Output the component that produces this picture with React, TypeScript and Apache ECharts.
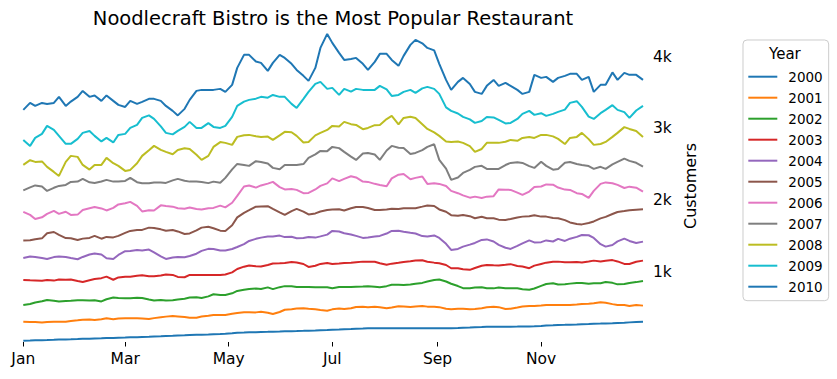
import React, { useEffect, useRef } from "react";
import * as echarts from "echarts";

const FONT = "DejaVu Sans";

const years = ["2000", "2001", "2002", "2003", "2004", "2005", "2006", "2007", "2008", "2009", "2010"];
const colors = ["#1f77b4", "#ff7f0e", "#2ca02c", "#d62728", "#9467bd", "#8c564b", "#e377c2", "#7f7f7f", "#bcbd22", "#17becf", "#1f77b4"];

// day of year (0 = Jan 1) of each sample
const days = [0, 4, 7, 11, 14, 18, 21, 25, 28, 32, 35, 39, 42, 46, 49, 53, 56, 60, 63, 67, 70, 74, 77, 81, 84, 88, 91, 95, 98, 102, 105, 109, 112, 116, 119, 123, 126, 130, 133, 137, 140, 144, 147, 151, 154, 158, 161, 165, 168, 172, 175, 179, 182, 186, 189, 193, 196, 200, 203, 207, 210, 214, 217, 221, 224, 228, 231, 235, 238, 242, 245, 249, 252, 256, 259, 263, 266, 270, 273, 277, 280, 284, 287, 291, 294, 298, 301, 305, 308, 312, 315, 319, 322, 326, 329, 333, 336, 340, 343, 347, 350, 354, 357, 361, 365];

const monthTicks = [0, 60, 121, 182, 244, 305];
const monthLabels = ["Jan", "Mar", "May", "Jul", "Sep", "Nov"];
const yTicks = [1000, 2000, 3000, 4000];
const yTickLabels = ["1k", "2k", "3k", "4k"];

const y2000 = [49, 51, 54, 56, 58, 61, 64, 66, 68, 71, 74, 76, 79, 82, 85, 87, 90, 92, 95, 97, 100, 103, 106, 109, 113, 116, 120, 123, 127, 130, 132, 135, 139, 142, 145, 152, 159, 161, 164, 167, 170, 172, 174, 176, 178, 180, 182, 185, 188, 190, 193, 196, 200, 204, 209, 212, 216, 218, 221, 222, 223, 223, 223, 222, 221, 221, 221, 222, 223, 223, 223, 222, 221, 224, 228, 231, 235, 238, 242, 242, 243, 243, 243, 244, 245, 247, 249, 254, 260, 263, 267, 269, 271, 274, 277, 280, 284, 286, 289, 292, 296, 299, 303, 308, 313];
const y2001 = [312, 309, 309, 301, 309, 313, 313, 313, 323, 333, 341, 344, 337, 348, 360, 348, 358, 360, 360, 360, 358, 349, 362, 374, 383, 390, 385, 378, 367, 367, 385, 394, 406, 406, 406, 423, 434, 445, 445, 442, 451, 438, 420, 447, 479, 486, 495, 500, 493, 484, 476, 466, 484, 495, 490, 500, 518, 519, 515, 520, 513, 501, 511, 526, 523, 518, 525, 530, 522, 522, 515, 493, 486, 493, 493, 486, 490, 501, 513, 522, 515, 490, 494, 511, 525, 532, 532, 538, 545, 545, 545, 545, 545, 551, 559, 561, 569, 583, 576, 557, 545, 545, 532, 545, 536];
const y2002 = [545, 559, 580, 596, 615, 605, 594, 601, 605, 611, 611, 608, 612, 594, 625, 648, 643, 639, 639, 644, 643, 621, 607, 615, 607, 612, 622, 632, 650, 653, 643, 665, 694, 685, 685, 707, 740, 758, 768, 774, 768, 790, 765, 793, 807, 804, 796, 794, 796, 792, 792, 792, 779, 794, 796, 796, 800, 803, 807, 799, 792, 807, 826, 826, 824, 829, 840, 852, 872, 893, 900, 872, 840, 808, 779, 778, 789, 792, 778, 776, 788, 778, 778, 778, 765, 757, 775, 810, 836, 846, 831, 832, 842, 852, 852, 839, 847, 847, 865, 853, 832, 836, 852, 863, 879];
const y2003 = [893, 888, 886, 882, 893, 884, 900, 896, 900, 878, 865, 889, 907, 918, 939, 896, 928, 939, 939, 952, 960, 946, 945, 956, 970, 963, 935, 931, 963, 963, 963, 963, 963, 963, 970, 999, 1046, 1078, 1095, 1085, 1081, 1102, 1123, 1126, 1130, 1142, 1137, 1115, 1074, 1091, 1116, 1130, 1116, 1123, 1130, 1134, 1140, 1148, 1148, 1147, 1126, 1105, 1120, 1131, 1144, 1153, 1165, 1166, 1147, 1134, 1126, 1101, 1056, 1055, 1042, 1034, 1060, 1091, 1102, 1096, 1095, 1105, 1113, 1088, 1081, 1057, 1092, 1116, 1134, 1145, 1148, 1138, 1141, 1142, 1137, 1151, 1162, 1149, 1160, 1169, 1151, 1116, 1116, 1147, 1162];
const y2004 = [1199, 1220, 1213, 1197, 1185, 1211, 1220, 1213, 1199, 1181, 1213, 1247, 1262, 1247, 1195, 1185, 1241, 1294, 1297, 1309, 1304, 1316, 1276, 1220, 1185, 1204, 1213, 1209, 1227, 1258, 1297, 1326, 1325, 1304, 1304, 1323, 1352, 1391, 1436, 1465, 1482, 1496, 1499, 1510, 1489, 1493, 1474, 1478, 1492, 1482, 1499, 1524, 1575, 1567, 1543, 1526, 1506, 1478, 1485, 1497, 1506, 1539, 1575, 1578, 1565, 1550, 1540, 1503, 1496, 1512, 1478, 1396, 1311, 1325, 1357, 1384, 1408, 1450, 1457, 1428, 1380, 1341, 1325, 1366, 1401, 1443, 1415, 1419, 1443, 1428, 1464, 1436, 1467, 1492, 1519, 1515, 1478, 1391, 1357, 1379, 1429, 1467, 1436, 1407, 1426];
const y2005 = [1443, 1446, 1460, 1472, 1543, 1560, 1519, 1476, 1474, 1450, 1468, 1478, 1506, 1467, 1492, 1485, 1506, 1547, 1575, 1588, 1589, 1621, 1617, 1597, 1578, 1589, 1568, 1533, 1540, 1582, 1621, 1632, 1613, 1579, 1575, 1653, 1763, 1827, 1863, 1913, 1916, 1919, 1881, 1833, 1798, 1851, 1881, 1844, 1805, 1819, 1846, 1867, 1874, 1876, 1860, 1891, 1909, 1909, 1895, 1867, 1867, 1874, 1884, 1881, 1891, 1891, 1891, 1913, 1930, 1922, 1874, 1842, 1794, 1785, 1798, 1780, 1752, 1771, 1752, 1752, 1732, 1728, 1742, 1763, 1774, 1780, 1794, 1774, 1774, 1755, 1752, 1725, 1693, 1672, 1666, 1685, 1707, 1750, 1770, 1810, 1839, 1851, 1863, 1870, 1877];
const y2006 = [1839, 1798, 1742, 1764, 1812, 1853, 1812, 1842, 1798, 1802, 1867, 1891, 1909, 1888, 1860, 1895, 1944, 1960, 1979, 1924, 1846, 1862, 1860, 1931, 1923, 1913, 1891, 1883, 1902, 1881, 1874, 1891, 1895, 1927, 1902, 1967, 2062, 2193, 2208, 2178, 2208, 2233, 2257, 2184, 2152, 2157, 2146, 2100, 2104, 2152, 2201, 2236, 2306, 2267, 2299, 2336, 2319, 2261, 2257, 2230, 2215, 2197, 2306, 2357, 2368, 2294, 2313, 2333, 2229, 2239, 2229, 2200, 2132, 2100, 2069, 2038, 2052, 2034, 2052, 2059, 2152, 2147, 2146, 2108, 2076, 2123, 2187, 2193, 2222, 2218, 2178, 2150, 2146, 2100, 2090, 2034, 2132, 2230, 2250, 2239, 2215, 2172, 2191, 2176, 2122];
const y2007 = [2139, 2180, 2208, 2194, 2132, 2175, 2201, 2215, 2257, 2262, 2299, 2251, 2243, 2262, 2285, 2261, 2261, 2271, 2313, 2253, 2239, 2239, 2250, 2250, 2243, 2278, 2299, 2272, 2261, 2261, 2257, 2240, 2261, 2244, 2313, 2431, 2507, 2492, 2480, 2545, 2535, 2512, 2452, 2434, 2493, 2493, 2493, 2505, 2591, 2640, 2688, 2685, 2744, 2727, 2674, 2608, 2563, 2651, 2660, 2638, 2563, 2694, 2758, 2733, 2730, 2644, 2660, 2699, 2744, 2781, 2563, 2441, 2285, 2318, 2382, 2424, 2466, 2481, 2438, 2435, 2438, 2492, 2521, 2531, 2521, 2477, 2452, 2537, 2480, 2427, 2438, 2523, 2535, 2507, 2493, 2477, 2438, 2467, 2438, 2500, 2535, 2580, 2549, 2523, 2470];
const y2008 = [2493, 2559, 2535, 2542, 2466, 2396, 2340, 2535, 2619, 2605, 2493, 2428, 2493, 2493, 2591, 2517, 2480, 2410, 2424, 2517, 2619, 2698, 2758, 2702, 2674, 2641, 2702, 2726, 2716, 2635, 2563, 2619, 2744, 2811, 2800, 2772, 2883, 2907, 2911, 2893, 2883, 2887, 2841, 2904, 2953, 2948, 2897, 2806, 2813, 2904, 2939, 2980, 3036, 3029, 3092, 3060, 3050, 2990, 3008, 3046, 3050, 3131, 3175, 3058, 3147, 3164, 3147, 3060, 2994, 2946, 2897, 2820, 2813, 2818, 2800, 2754, 2674, 2715, 2800, 2802, 2800, 2816, 2841, 2829, 2869, 2883, 2869, 2911, 2911, 2890, 2855, 2784, 2869, 2883, 2939, 2852, 2772, 2784, 2813, 2883, 2939, 3019, 2994, 2965, 2883];
const y2009 = [2841, 2758, 2869, 2925, 3036, 2980, 2897, 2786, 2786, 2855, 2939, 2966, 2897, 2820, 2869, 2806, 2911, 2925, 3008, 3050, 3147, 3182, 3133, 3029, 2939, 2918, 2966, 3022, 3092, 3008, 3008, 3074, 3022, 3008, 3036, 3161, 3314, 3374, 3398, 3415, 3440, 3428, 3467, 3440, 3440, 3342, 3286, 3412, 3509, 3620, 3648, 3551, 3565, 3467, 3551, 3513, 3551, 3537, 3537, 3537, 3593, 3544, 3453, 3467, 3509, 3537, 3495, 3558, 3579, 3551, 3481, 3293, 3245, 3209, 3161, 3126, 3078, 3103, 3161, 3154, 3120, 3071, 3078, 3133, 3203, 3245, 3189, 3213, 3175, 3203, 3231, 3263, 3356, 3380, 3300, 3165, 3133, 3213, 3259, 3324, 3259, 3227, 3147, 3250, 3314];
const y2010 = [3259, 3356, 3314, 3356, 3342, 3356, 3440, 3314, 3374, 3440, 3523, 3440, 3460, 3384, 3460, 3384, 3328, 3300, 3384, 3342, 3370, 3412, 3412, 3384, 3314, 3245, 3182, 3273, 3398, 3523, 3537, 3537, 3537, 3551, 3509, 3607, 3843, 4024, 4024, 3931, 3913, 3801, 3913, 4024, 3982, 3899, 3815, 3732, 3662, 3843, 4121, 4316, 4191, 4052, 3954, 3968, 3982, 3899, 3815, 3927, 4038, 4038, 3954, 3871, 4010, 4163, 4233, 4184, 4121, 4087, 3899, 3676, 3537, 3648, 3704, 3620, 3509, 3481, 3593, 3676, 3593, 3634, 3593, 3537, 3481, 3509, 3746, 3704, 3718, 3648, 3704, 3732, 3760, 3760, 3676, 3718, 3509, 3607, 3607, 3780, 3676, 3773, 3746, 3746, 3676];

const seriesValues = [y2000, y2001, y2002, y2003, y2004, y2005, y2006, y2007, y2008, y2009, y2010];

export default function App() {
  const ref = useRef<HTMLDivElement>(null);
  useEffect(() => {
    if (!ref.current) return;
    const chart = echarts.init(ref.current, null, { renderer: "svg" });
    chart.setOption({
      animation: false,
      backgroundColor: "#ffffff",
      textStyle: { fontFamily: FONT },
      title: {
        text: "Noodlecraft Bistro is the Most Popular Restaurant",
        left: 333,
        top: 8,
        padding: 0,
        textAlign: "center",
        textStyle: { fontFamily: FONT, fontSize: 19.5, fontWeight: "normal", color: "#000" },
      },
      grid: { left: 23.3, right: 194, top: 30, bottom: 37, containLabel: false },
      xAxis: {
        type: "value",
        min: 0,
        max: 365,
        axisLine: { show: false },
        splitLine: { show: false },
        axisTick: { show: true, customValues: monthTicks, length: 4.5, lineStyle: { color: "#000", width: 1 } },
        axisLabel: {
          customValues: monthTicks,
          formatter: (v: number) => monthLabels[monthTicks.indexOf(v)] ?? "",
          fontFamily: FONT,
          fontSize: 15.5,
          color: "#000",
          margin: 9,
        },
      },
      yAxis: {
        type: "value",
        position: "right",
        min: 30,
        max: 4370,
        axisLine: { show: false },
        axisTick: { show: false },
        splitLine: { show: false },
        axisLabel: {
          customValues: yTicks,
          formatter: (v: number) => yTickLabels[yTicks.indexOf(v)] ?? "",
          fontFamily: FONT,
          fontSize: 15.5,
          color: "#000",
          margin: 10,
        },
        name: "Customers",
        nameLocation: "middle",
        nameRotate: 90,
        nameGap: 32,
        nameTextStyle: { fontFamily: FONT, fontSize: 16, color: "#000" },
      },
      legend: {
        orient: "vertical",
        left: 743,
        top: 40,
        padding: [29.7, 6, 7, 4.3],
        borderColor: "#cccccc",
        borderWidth: 1,
        borderRadius: 4,
        itemWidth: 29,
        itemHeight: 14,
        itemGap: 7,
        itemStyle: { opacity: 0 },
        textStyle: { fontFamily: FONT, fontSize: 13.5, color: "#000", padding: [0, 0, 0, 6] },
        data: years,
      },
      graphic: [
        {
          type: "text",
          left: 769,
          top: 46.5,
          style: { text: "Year", fontFamily: FONT, fontSize: 15, fill: "#000" },
        },
      ],
      series: years.map((y, i) => ({
        name: y,
        type: "line",
        showSymbol: false,
        symbol: "none",
        color: colors[i],
        lineStyle: { width: 2, color: colors[i] },
        data: days.map((d, j) => [d, seriesValues[i][j]]),
      })),
    });
    return () => chart.dispose();
  }, []);
  return <div ref={ref} style={{ position: "fixed", left: 0, top: 0, width: 837, height: 379 }} />;
}
